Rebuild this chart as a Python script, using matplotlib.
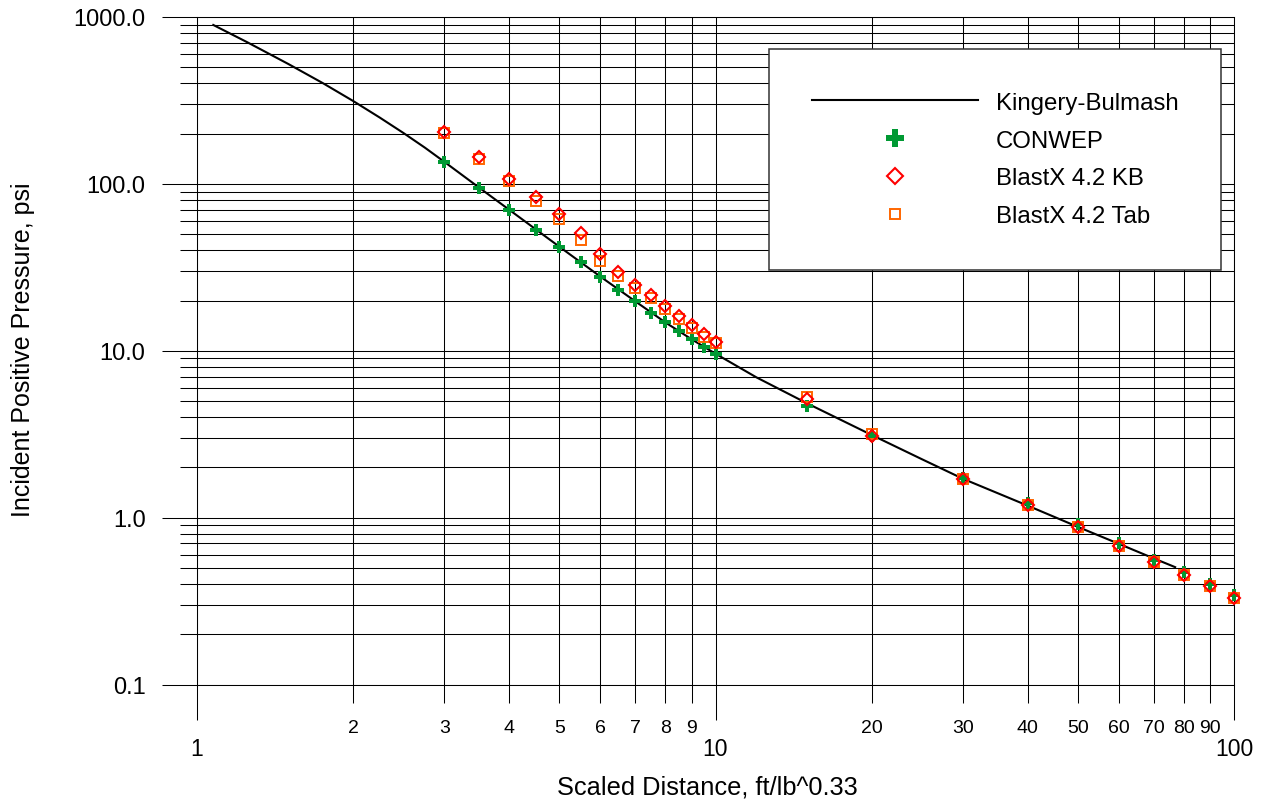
import numpy as np
import matplotlib
matplotlib.use("Agg")
import matplotlib.pyplot as plt
from matplotlib.ticker import FixedLocator, FuncFormatter, NullFormatter

plt.rcParams['font.family'] = ['Liberation Sans', 'DejaVu Sans']

# Kingery-Bulmash incident pressure curve (scaled distance, psi)
kb_curve_z = [1.075, 1.25, 1.5, 1.75, 2, 2.25, 2.5, 2.75, 3, 3.5, 4, 5, 6, 7, 8, 9, 10, 12, 15,
              20, 25, 30, 40, 50, 60, 70, 77]
kb_curve_p = [896, 706, 523, 401, 314, 250, 202, 165, 135.5, 95, 70, 42, 27.8, 19.8, 14.8, 11.7,
              9.6, 6.92, 4.85, 3.13, 2.24, 1.71, 1.18, 0.88, 0.696, 0.570, 0.505]

# code comparison points
dist = [3, 3.5, 4, 4.5, 5, 5.5, 6, 6.5, 7, 7.5, 8, 8.5, 9, 9.5, 10,
        15, 20, 30, 40, 50, 60, 70, 80, 90, 100]
conwep = [134.7, 94.9, 70.0, 53.2, 42.0, 33.9, 27.8, 23.2, 19.8, 16.9, 14.8, 13.1, 11.8, 10.5, 9.57,
          4.65, 3.08, 1.72, 1.22, 0.91, 0.70, 0.56, 0.47, 0.40, 0.345]
blastx_kb = [205.5, 145.5, 107.4, 83.8, 65.7, 50.6, 37.9, 29.5, 24.9, 21.5, 18.6, 16.2, 14.3, 12.6, 11.3,
             5.12, 3.09, 1.71, 1.19, 0.88, 0.674, 0.541, 0.453, 0.388, 0.332]
blastx_tab = [201.8, 141.6, 104.5, 79.3, 61.6, 46.3, 34.7, 28.1, 23.9, 20.8, 17.7, 15.5, 13.7, 12.1, 11.1,
              5.29, 3.18, 1.71, 1.19, 0.88, 0.674, 0.541, 0.453, 0.388, 0.332]

fig = plt.figure(figsize=(12.66, 8.03), dpi=100)
ax = fig.add_axes([197/1266, 1 - 685.5/803, 1037/1266, 667.5/803])

ax.plot(kb_curve_z, kb_curve_p, color='black', lw=1.5, label='Kingery-Bulmash', zorder=3)
ax.plot(dist, conwep, ls='none', marker='P', ms=8, color='#009933', mew=0,
        label='CONWEP', zorder=4, clip_on=False)
ax.plot(dist, blastx_kb, ls='none', marker='D', ms=6.3, mfc='none', mec='#ff0000', mew=1.5,
        label='BlastX 4.2 KB', zorder=6, clip_on=False)
ax.plot(dist, blastx_tab, ls='none', marker='s', ms=7, mfc='none', mec='#ff6600', mew=1.4,
        label='BlastX 4.2 Tab', zorder=5, clip_on=False)

ax.set_xscale('log')
ax.set_yscale('log')
ax.set_xlim(1, 100)
ax.set_ylim(0.1, 1000)

ax.xaxis.set_major_locator(FixedLocator([1, 10, 100]))
ax.xaxis.set_minor_locator(FixedLocator([2, 3, 4, 5, 6, 7, 8, 9, 20, 30, 40, 50, 60, 70, 80, 90]))
ax.xaxis.set_major_formatter(FuncFormatter(lambda v, p: '%g' % v))
ax.xaxis.set_minor_formatter(FuncFormatter(lambda v, p: '%g' % v))

ax.yaxis.set_major_locator(FixedLocator([0.1, 1, 10, 100, 1000]))
ax.yaxis.set_minor_locator(FixedLocator([m * 10.0**e for e in range(-1, 3) for m in range(2, 10)]))
ax.yaxis.set_major_formatter(FuncFormatter(lambda v, p: '%.1f' % v))
ax.yaxis.set_minor_formatter(NullFormatter())

ax.grid(True, which='both', color='black', lw=0.75)
ax.set_axisbelow(True)
for s in ax.spines.values():
    s.set_linewidth(0.75)

ax.tick_params(axis='both', which='both', direction='out', width=0.75, color='black')
ax.tick_params(axis='x', which='major', length=25, pad=12.5, labelsize=16.5)
ax.tick_params(axis='x', which='minor', length=12.6, pad=12.5, labelsize=14)
ax.tick_params(axis='y', which='major', length=25, pad=12, labelsize=17)
ax.tick_params(axis='y', which='minor', length=12.6)

ax.set_xlabel('Scaled Distance, ft/lb^0.33', fontsize=18.3)
ax.set_ylabel('Incident Positive Pressure, psi', fontsize=18)
ax.xaxis.set_label_coords(0.492, -0.135)
ax.yaxis.set_label_coords(-0.156, 0.503)

leg = ax.legend(loc='upper right', bbox_to_anchor=(1221/1266, 1 - 50/803),
                bbox_transform=fig.transFigure, borderaxespad=0, fontsize=17.3,
                fancybox=False, framealpha=1, edgecolor='#333333',
                handlelength=6.9, handletextpad=0.75, labelspacing=0.66, borderpad=1.78)
leg.get_frame().set_linewidth(1.1)
leg.legend_handles[1].set_markersize(13)
leg.legend_handles[2].set_markersize(8)
leg.legend_handles[3].set_markersize(7)

fig.savefig('out.png', dpi=100)
